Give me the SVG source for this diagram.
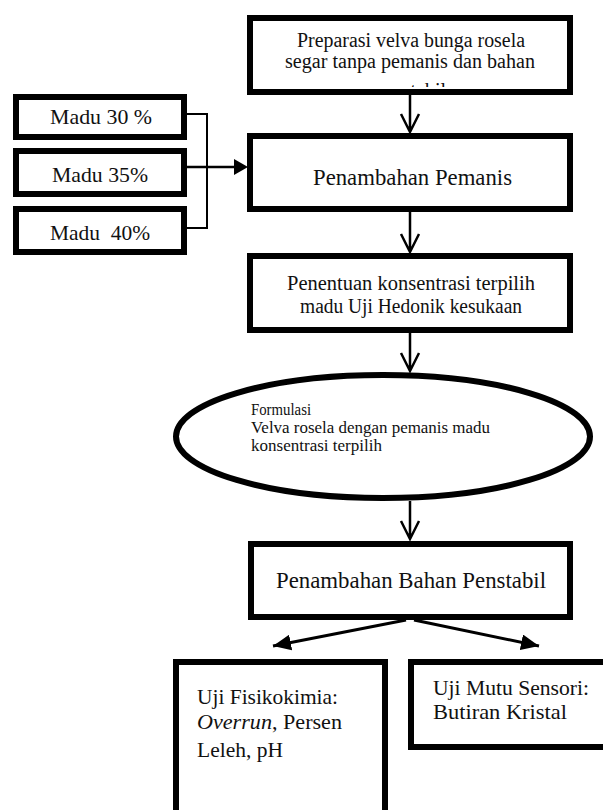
<svg xmlns="http://www.w3.org/2000/svg" width="603" height="810" viewBox="0 0 603 810">
<style>
.box{fill:#fff;stroke:#000;stroke-width:6}
.t{font-family:"Liberation Serif","Times New Roman",serif;fill:#111}
.ln{stroke:#000;stroke-width:2.5;fill:none}
.thin{stroke:#000;stroke-width:2;fill:none}
</style>
<defs>
<clipPath id="clipTop"><rect x="253" y="21" width="314" height="66"/></clipPath>
<marker id="tri" markerUnits="userSpaceOnUse" markerWidth="20" markerHeight="16" refX="18" refY="8" orient="auto"><path d="M0,0 L18,8 L0,16 Z" fill="#000"/></marker>
</defs>
<g id="connectors">
<path class="ln" d="M410,95 V132 M401,114 L410,132 L419,114"/>
<path class="ln" d="M410,212 V252 M401,234 L410,252 L419,234"/>
<path class="ln" d="M410,333 V371 M401,353 L410,371 L419,353"/>
<path class="ln" d="M410,501 V539 M401,521 L410,539 L419,521"/>
<path class="thin" d="M187,114 H207 V228 H187"/>
<line x1="187" y1="167" x2="236" y2="167" stroke="#000" stroke-width="2.5"/>
<path d="M234,159 L248,167 L234,175 Z" fill="#000"/>
<line x1="406" y1="620" x2="273" y2="646" stroke="#000" stroke-width="3" marker-end="url(#tri)"/>
<line x1="414" y1="620" x2="539" y2="646" stroke="#000" stroke-width="3" marker-end="url(#tri)"/>
</g>
<g id="n-preparasi">
<rect class="box" x="250" y="18" width="320" height="74"/>
<g clip-path="url(#clipTop)">
<text class="t" font-size="20" x="297" y="47" textLength="228" lengthAdjust="spacingAndGlyphs">Preparasi velva bunga rosela</text>
<text class="t" font-size="20" x="285" y="68" textLength="250" lengthAdjust="spacingAndGlyphs">segar tanpa pemanis dan bahan</text>
<text class="t" font-size="20" x="410" y="97" text-anchor="middle">penstabil</text>
</g>
</g>
<g id="n-madu30">
<rect class="box" x="16" y="97" width="168" height="40"/>
<text class="t" font-size="21.5" x="50" y="124" textLength="102" lengthAdjust="spacingAndGlyphs">Madu 30 %</text>
</g>
<g id="n-madu35">
<rect class="box" x="16" y="151" width="168" height="43"/>
<text class="t" font-size="21.5" x="52" y="182" textLength="96" lengthAdjust="spacingAndGlyphs">Madu 35%</text>
</g>
<g id="n-madu40">
<rect class="box" x="16" y="209" width="168" height="43"/>
<text class="t" font-size="21.5" x="50" y="240" textLength="100" lengthAdjust="spacingAndGlyphs" xml:space="preserve">Madu  40%</text>
</g>
<g id="n-pemanis">
<rect class="box" x="250" y="136" width="320" height="73"/>
<text class="t" font-size="22.5" x="313" y="185" textLength="199" lengthAdjust="spacingAndGlyphs">Penambahan Pemanis</text>
</g>
<g id="n-penentuan">
<rect class="box" x="250" y="256" width="320" height="74"/>
<text class="t" font-size="20" x="287" y="290" textLength="248" lengthAdjust="spacingAndGlyphs">Penentuan konsentrasi terpilih</text>
<text class="t" font-size="20" x="300" y="313" textLength="222" lengthAdjust="spacingAndGlyphs">madu Uji Hedonik kesukaan</text>
</g>
<g id="n-formulasi">
<ellipse cx="383" cy="436.5" rx="207" ry="61.5" fill="#fff" stroke="#000" stroke-width="6"/>
<text class="t" font-size="16.8" x="251" y="415" textLength="60" lengthAdjust="spacingAndGlyphs">Formulasi</text>
<text class="t" font-size="16.8" x="251" y="433" textLength="239" lengthAdjust="spacingAndGlyphs">Velva rosela dengan pemanis madu</text>
<text class="t" font-size="16.8" x="251" y="451" textLength="131" lengthAdjust="spacingAndGlyphs">konsentrasi terpilih</text>
</g>
<g id="n-penstabil">
<rect class="box" x="251" y="544" width="319" height="73"/>
<text class="t" font-size="22.5" x="276" y="588" textLength="270" lengthAdjust="spacingAndGlyphs">Penambahan Bahan Penstabil</text>
</g>
<g id="n-fisikokimia">
<rect class="box" x="176" y="662" width="209" height="160"/>
<text class="t" font-size="21.5" x="197" y="704" textLength="141" lengthAdjust="spacingAndGlyphs">Uji Fisikokimia:</text>
<text class="t" font-size="21.5" x="197" y="729" textLength="145" lengthAdjust="spacingAndGlyphs"><tspan font-style="italic">Overrun</tspan>, Persen</text>
<text class="t" font-size="21.5" x="197" y="757">Leleh, pH</text>
</g>
<g id="n-sensori">
<rect class="box" x="411" y="662" width="210" height="85"/>
<text class="t" font-size="21.5" x="433" y="695" textLength="156" lengthAdjust="spacingAndGlyphs">Uji Mutu Sensori:</text>
<text class="t" font-size="21.5" x="433" y="719" textLength="134" lengthAdjust="spacingAndGlyphs">Butiran Kristal</text>
</g>
</svg>
